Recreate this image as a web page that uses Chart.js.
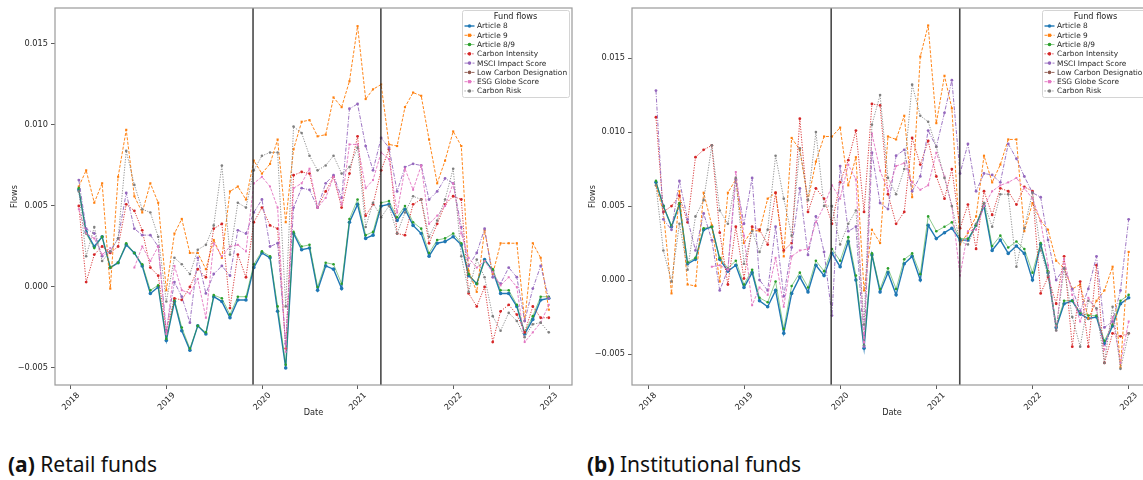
<!DOCTYPE html>
<html><head><meta charset="utf-8">
<script src="https://cdn.jsdelivr.net/npm/chart.js@4/dist/chart.umd.min.js"></script>
<style>
html,body{margin:0;padding:0;background:#fff;width:1143px;height:480px;overflow:hidden;position:relative;}
#c1{position:absolute;left:0;top:0;}
#c2{position:absolute;left:580px;top:0;}
.cap{position:absolute;top:450px;font-family:"Noto Sans";font-size:21px;color:#111;white-space:nowrap;}
.cap b{font-weight:700;}
</style></head><body>
<canvas id="c1" width="577" height="430"></canvas>
<canvas id="c2" width="577" height="430"></canvas>
<div class="cap" style="left:8px"><b>(a)</b> Retail funds</div>
<div class="cap" style="left:587px"><b>(b)</b> Institutional funds</div>
<script>
// ---------- data ----------
const months = [];
for (let y = 2018; y <= 2022; y++) for (let m = 1; m <= 12; m++) months.push(y + '-' + String(m).padStart(2, '0'));

const seriesNames = ['Article 8','Article 9','Article 8/9','Carbon Intensity','MSCI Impact Score','Low Carbon Designation','ESG Globe Score','Carbon Risk'];
const xTickYears = [2018, 2019, 2020, 2021, 2022, 2023];
const yTickValues = [-0.005, 0, 0.005, 0.010, 0.015];
const eventDates = ['2019-11-27', '2021-03-30'];

// Retail funds
const retailArticle8 = [0.0060,0.0034,0.0025,0.0031,0.0012,0.0015,0.0026,0.0021,0.0013,-0.0004,0.0000,-0.0033,-0.0009,-0.0027,-0.0039,-0.0024,-0.0029,-0.0006,-0.0009,-0.0019,-0.0008,-0.0008,0.0012,0.0021,0.0018,-0.0015,-0.0050,0.0033,0.0023,0.0024,-0.0002,0.0013,0.0011,-0.0001,0.0040,0.0051,0.0030,0.0032,0.0050,0.0051,0.0041,0.0048,0.0038,0.0033,0.0019,0.0027,0.0028,0.0031,0.0026,0.0007,0.0002,0.0017,0.0010,-0.0004,-0.0004,-0.0012,-0.0029,-0.0020,-0.0008,-0.0007];
const retailArticle9 = [0.0062,0.0072,0.0052,0.0064,-0.0001,0.0068,0.0097,0.0056,0.0046,0.0064,0.0052,-0.0002,0.0033,0.0042,0.0021,0.0021,0.0011,0.0029,0.0018,0.0059,0.0062,0.0054,0.0078,0.0070,0.0076,0.0091,0.0040,0.0085,0.0102,0.0103,0.0093,0.0094,0.0117,0.0111,0.0127,0.0161,0.0116,0.0122,0.0125,0.0088,0.0087,0.0111,0.0120,0.0118,0.0091,0.0064,0.0078,0.0096,0.0087,0.0010,-0.0003,0.0035,0.0008,0.0027,0.0027,0.0027,-0.0021,0.0027,0.0018,-0.0014];
const retailArticle89 = [0.0061,0.0033,0.0024,0.0031,0.0012,0.0015,0.0027,0.0021,0.0014,-0.0002,0.0001,-0.0032,-0.0008,-0.0025,-0.0038,-0.0024,-0.0028,-0.0005,-0.0007,-0.0017,-0.0006,-0.0006,0.0014,0.0022,0.0019,-0.0012,-0.0048,0.0034,0.0025,0.0026,0.0000,0.0015,0.0014,0.0002,0.0042,0.0054,0.0032,0.0034,0.0052,0.0053,0.0043,0.0050,0.0040,0.0036,0.0021,0.0029,0.0030,0.0033,0.0027,0.0008,0.0002,0.0016,0.0011,-0.0002,-0.0002,-0.0011,-0.0028,-0.0018,-0.0006,-0.0006];
const retailCarbonIntensity = [0.0050,0.0003,0.0020,0.0025,0.0021,0.0025,0.0051,0.0047,0.0035,0.0012,0.0007,-0.0027,-0.0007,-0.0008,0.0000,0.0011,0.0006,0.0036,0.0039,-0.0013,0.0020,0.0006,0.0040,0.0049,0.0038,0.0036,-0.0038,0.0069,0.0071,0.0070,0.0049,0.0059,0.0068,0.0049,0.0070,0.0093,0.0044,0.0051,0.0072,0.0085,0.0033,0.0032,0.0051,0.0054,0.0027,0.0039,0.0051,0.0056,0.0054,-0.0004,-0.0012,0.0000,-0.0034,-0.0015,-0.0011,-0.0017,-0.0028,-0.0012,-0.0019,-0.0019];
const retailMsciImpact = [0.0066,0.0036,0.0033,0.0019,0.0022,0.0030,0.0058,0.0036,0.0032,0.0032,0.0025,-0.0027,0.0003,-0.0006,-0.0022,0.0018,-0.0004,0.0008,0.0013,0.0007,0.0035,0.0033,0.0046,0.0054,0.0025,0.0027,-0.0035,0.0049,0.0061,0.0060,0.0049,0.0064,0.0069,0.0055,0.0110,0.0113,0.0087,0.0072,0.0092,0.0086,0.0059,0.0074,0.0076,0.0075,0.0054,0.0059,0.0067,0.0064,0.0037,0.0013,0.0021,0.0036,0.0006,0.0002,0.0012,0.0006,-0.0021,-0.0001,0.0013,-0.0007];
const retailLowCarbon = [];
const retailEsgGlobe = [0.0048,0.0033,0.0030,0.0020,0.0024,null,null,0.0012,0.0025,0.0016,0.0025,-0.0029,0.0013,-0.0002,-0.0004,0.0005,-0.0019,0.0027,0.0019,0.0025,0.0026,0.0022,0.0064,0.0068,0.0062,0.0049,-0.0040,0.0061,0.0064,0.0073,0.0049,0.0055,0.0068,0.0051,0.0088,0.0088,0.0061,0.0066,0.0083,0.0079,0.0046,0.0073,0.0060,0.0075,0.0039,0.0044,0.0050,0.0064,0.0033,0.0018,0.0012,0.0016,0.0009,0.0001,0.0006,0.0000,-0.0034,-0.0028,-0.0022,-0.0011];
const retailCarbonRisk = [0.0059,0.0019,0.0037,0.0016,0.0022,0.0030,0.0084,0.0063,0.0048,0.0046,0.0031,-0.0009,0.0018,0.0014,0.0008,0.0023,0.0026,0.0038,0.0075,0.0020,0.0052,0.0049,0.0072,0.0081,0.0083,0.0083,-0.0012,0.0099,0.0095,0.0081,0.0072,0.0075,0.0081,0.0070,0.0074,0.0086,0.0037,0.0052,0.0043,0.0050,0.0033,0.0046,0.0056,0.0054,0.0031,0.0041,0.0054,0.0073,0.0019,-0.0003,0.0017,0.0006,-0.0018,-0.0027,-0.0016,-0.0021,-0.0031,-0.0023,-0.0022,-0.0028];

// Institutional funds
const instArticle8 = [0.0066,0.0050,0.0036,0.0051,0.0011,0.0014,0.0034,0.0036,0.0014,0.0006,0.0010,-0.0005,0.0005,-0.0014,-0.0018,-0.0007,-0.0036,-0.0009,0.0002,-0.0008,0.0010,0.0003,0.0018,0.0009,0.0026,0.0000,-0.0046,0.0017,-0.0008,0.0005,-0.0010,0.0011,0.0016,0.0000,0.0037,0.0028,0.0032,0.0035,0.0027,0.0027,0.0037,0.0050,0.0020,0.0027,0.0018,0.0023,0.0018,0.0000,0.0024,0.0005,-0.0032,-0.0016,-0.0014,-0.0023,-0.0026,-0.0025,-0.0043,-0.0031,-0.0016,-0.0012];
const instArticle9 = [0.0064,0.0046,-0.0009,0.0060,-0.0003,-0.0004,0.0059,0.0037,-0.0001,0.0059,0.0068,0.0025,0.0034,0.0033,0.0055,0.0059,0.0016,0.0096,0.0088,0.0054,0.0080,0.0097,0.0097,0.0103,0.0064,0.0083,-0.0007,0.0034,0.0025,0.0097,0.0095,0.0111,0.0056,0.0151,0.0172,0.0106,0.0138,0.0116,0.0024,0.0032,0.0043,0.0084,0.0066,0.0078,0.0095,0.0095,0.0033,0.0052,0.0040,0.0034,0.0013,0.0008,-0.0006,-0.0003,-0.0026,-0.0014,-0.0007,0.0009,-0.0059,0.0019];
const instArticle89 = [0.0067,0.0050,0.0037,0.0052,0.0012,0.0015,0.0035,0.0036,0.0015,0.0008,0.0013,-0.0003,0.0007,-0.0012,-0.0015,-0.0001,-0.0033,-0.0004,0.0005,-0.0005,0.0013,0.0006,0.0021,0.0013,0.0029,0.0003,-0.0044,0.0018,-0.0006,0.0008,-0.0006,0.0014,0.0018,0.0004,0.0043,0.0033,0.0036,0.0039,0.0028,0.0028,0.0037,0.0052,0.0023,0.0030,0.0022,0.0026,0.0021,0.0005,0.0025,0.0006,-0.0031,-0.0014,-0.0014,-0.0022,-0.0024,-0.0024,-0.0041,-0.0030,-0.0014,-0.0010];
const instCarbonIntensity = [0.0110,0.0046,0.0050,0.0057,0.0039,0.0083,0.0088,0.0091,0.0032,-0.0003,0.0036,0.0001,0.0036,0.0034,0.0024,0.0059,0.0020,0.0025,0.0109,0.0046,0.0062,0.0055,0.0038,0.0066,0.0081,0.0101,0.0046,0.0119,0.0118,0.0058,0.0038,0.0046,0.0096,0.0078,0.0094,0.0070,0.0055,0.0075,0.0035,0.0051,0.0021,0.0060,0.0044,0.0062,0.0060,0.0051,0.0063,0.0060,-0.0009,0.0002,-0.0016,0.0016,-0.0045,-0.0001,-0.0045,0.0010,-0.0056,-0.0036,-0.0038,-0.0036];
const instMsciImpact = [0.0128,0.0041,0.0034,0.0067,0.0041,0.0020,0.0045,0.0027,-0.0007,0.0007,0.0068,0.0038,0.0069,0.0000,-0.0007,0.0036,-0.0011,0.0022,0.0062,0.0017,0.0043,0.0019,-0.0024,0.0077,0.0033,0.0036,-0.0045,0.0086,0.0052,0.0048,0.0084,0.0088,0.0060,0.0070,0.0101,0.0090,0.0113,0.0135,0.0072,0.0092,0.0060,0.0072,0.0071,0.0066,0.0092,0.0082,0.0070,0.0059,0.0056,0.0027,0.0000,0.0008,-0.0006,-0.0021,-0.0006,0.0016,-0.0032,-0.0028,-0.0007,0.0041];
const instLowCarbon = [];
const instEsgGlobe = [null,null,null,null,null,null,null,0.0009,0.0010,0.0007,0.0073,0.0030,-0.0017,-0.0005,-0.0010,0.0015,-0.0018,0.0016,0.0020,0.0021,0.0039,0.0050,0.0064,0.0055,0.0078,0.0068,-0.0042,0.0099,0.0074,0.0060,0.0077,0.0079,0.0066,0.0061,0.0064,0.0086,0.0070,0.0050,0.0003,0.0033,0.0034,0.0050,0.0060,0.0064,0.0066,0.0069,0.0062,0.0055,0.0040,0.0010,-0.0034,0.0014,-0.0010,-0.0028,-0.0012,-0.0020,-0.0047,-0.0025,-0.0056,-0.0028];
const instCarbonRisk = [0.0064,0.0020,-0.0001,0.0038,0.0007,0.0043,0.0054,0.0091,0.0047,0.0038,0.0069,0.0011,0.0033,0.0019,0.0034,0.0084,0.0055,0.0030,0.0089,0.0054,0.0100,0.0050,0.0050,0.0024,0.0038,0.0047,-0.0030,0.0105,0.0125,0.0069,0.0058,0.0075,0.0132,0.0111,0.0107,0.0090,0.0069,0.0050,0.0026,0.0024,0.0038,0.0052,0.0036,0.0058,0.0058,0.0009,0.0035,0.0059,0.0020,0.0003,-0.0034,0.0008,-0.0025,-0.0045,-0.0014,-0.0019,-0.0056,-0.0018,-0.0060,-0.0036];

// ---------- styles ----------
const seriesStyle = [
  {color:'31,119,180',  dash:[],            width:1.4, radius:1.8, point:'circle', alpha:1},
  {color:'255,127,14',  dash:[3,1.6],       width:1.0, radius:1.5, point:'rect',   alpha:0.95},
  {color:'44,160,44',   dash:[],            width:0.9, radius:1.3, point:'circle', alpha:0.6},
  {color:'214,39,40',   dash:[1.2,1.4],     width:1.0, radius:1.4, point:'circle', alpha:0.9},
  {color:'148,103,189', dash:[4,1.5,1,1.5], width:1.0, radius:1.4, point:'circle', alpha:0.9},
  {color:'140,86,75',   dash:[3,1.5,1,1.5], width:1.0, radius:1.4, point:'circle', alpha:0.9},
  {color:'227,119,194', dash:[3,1.5],       width:1.0, radius:1.4, point:'rect',   alpha:0.9},
  {color:'127,127,127', dash:[1.2,1.4],     width:1.0, radius:1.3, point:'circle', alpha:0.85}
];
const FONT = 'DejaVu Sans';
const X_MIN = 2017.833, X_MAX = 2023.24;

function monthEndYear(s) {
  const [y, m] = s.split('-').map(Number);
  const start = Date.UTC(y, 0, 1), next = Date.UTC(y + 1, 0, 1);
  return y + (Date.UTC(y, m, 0) - start) / (next - start);
}
function dateYear(s) {
  const [y, m, d] = s.split('-').map(Number);
  const start = Date.UTC(y, 0, 1), next = Date.UTC(y + 1, 0, 1);
  return y + (Date.UTC(y, m - 1, d) - start) / (next - start);
}
const monthX = months.map(monthEndYear);
const rgba = (c, a) => 'rgba(' + c + ',' + a + ')';

const framePlugin = {
  id: 'frame',
  afterDatasetsDraw(chart) {
    const {ctx, chartArea: a} = chart;
    ctx.save();
    ctx.strokeStyle = '#9a9a9a'; ctx.lineWidth = 1.2;
    ctx.strokeRect(a.left, a.top, a.right - a.left, a.bottom - a.top);
    ctx.restore();
  }
};

const xLabelPlugin = {
  id: 'xlabels',
  afterDraw(chart) {
    const {ctx} = chart;
    const xs = chart.scales.x;
    const top = chart.chartArea.bottom + 4 + 3;
    ctx.save();
    ctx.font = '8.2px "' + FONT + '"';
    ctx.fillStyle = '#262626';
    ctx.textAlign = 'center'; ctx.textBaseline = 'middle';
    xTickYears.forEach(v => {
      const t = String(v);
      const w = ctx.measureText(t).width, h = 8.2 * 0.75;
      const half = (w + h) * Math.SQRT1_2 / 2;
      ctx.save();
      ctx.translate(xs.getPixelForValue(v), top + half);
      ctx.rotate(-Math.PI / 4);
      ctx.fillText(t, 0, 0);
      ctx.restore();
    });
    ctx.restore();
  }
};

const legendPlugin = {
  id: 'fundLegend',
  afterDraw(chart) {
    const {ctx, chartArea: a} = chart;
    const W = 107, H = 87;
    const left = a.right - 3 - W, top = a.top + 2;
    ctx.save();
    ctx.fillStyle = 'rgba(255,255,255,0.85)';
    ctx.strokeStyle = '#d4d4d4'; ctx.lineWidth = 1;
    ctx.beginPath();
    if (ctx.roundRect) ctx.roundRect(left + 0.5, top + 0.5, W, H, 2); else ctx.rect(left + 0.5, top + 0.5, W, H);
    ctx.fill(); ctx.stroke();
    ctx.fillStyle = '#262626';
    ctx.font = '8.2px "' + FONT + '"';
    ctx.textAlign = 'center'; ctx.textBaseline = 'middle';
    ctx.fillText('Fund flows', left + W / 2, top + 6.5);
    ctx.font = '7.4px "' + FONT + '"';
    ctx.textAlign = 'left';
    seriesNames.forEach((name, k) => {
      const st = seriesStyle[k];
      const y = top + 16 + k * 9.28;
      ctx.strokeStyle = rgba(st.color, st.alpha);
      ctx.lineWidth = st.width;
      ctx.setLineDash(st.dash);
      ctx.beginPath(); ctx.moveTo(left + 2.5, y); ctx.lineTo(left + 12.5, y); ctx.stroke();
      ctx.setLineDash([]);
      ctx.fillStyle = rgba(st.color, 1);
      ctx.beginPath();
      if (st.point === 'rect') ctx.rect(left + 7.5 - 1.6, y - 1.6, 3.2, 3.2);
      else ctx.arc(left + 7.5, y, 1.8, 0, Math.PI * 2);
      ctx.fill();
      ctx.fillStyle = '#262626';
      ctx.fillText(name, left + 15, y + 0.5);
    });
    ctx.restore();
  }
};

function buildChart(id, seriesValues, yMin, yMax, yAxisWidth, titlePad) {
  const datasets = seriesValues.map((vals, k) => {
    const st = seriesStyle[k];
    return {
      label: seriesNames[k],
      data: vals.map((v, i) => ({x: monthX[i], y: v})),
      borderColor: rgba(st.color, st.alpha),
      backgroundColor: rgba(st.color, 1),
      borderWidth: st.width,
      borderDash: st.dash,
      pointRadius: st.radius,
      pointStyle: st.point,
      pointBorderWidth: 0,
      pointBackgroundColor: rgba(st.color, 1),
      tension: 0, spanGaps: false, fill: false,
      order: seriesValues.length - k
    };
  });
  eventDates.forEach(d => {
    const xv = dateYear(d);
    datasets.push({
      label: '', data: [{x: xv, y: yMin}, {x: xv, y: yMax}],
      borderColor: 'rgba(40,40,40,0.85)', borderWidth: 1.6, pointRadius: 0, order: -1
    });
  });
  return new Chart(document.getElementById(id), {
    type: 'line',
    data: {datasets},
    options: {
      responsive: false, animation: false, devicePixelRatio: 1,
      layout: {padding: {left: 0, top: 8, right: 5, bottom: 0}},
      plugins: {legend: {display: false}, tooltip: {enabled: false}},
      scales: {
        x: {
          type: 'linear', min: X_MIN, max: X_MAX,
          afterBuildTicks: s => { s.ticks = xTickYears.map(v => ({value: v})); },
          afterFit: s => { s.height = 45; },
          grid: {display: true, drawOnChartArea: false, drawTicks: true, tickLength: 4, color: '#333', lineWidth: 0.8},
          border: {display: false},
          ticks: {display: false},
          title: {display: true, text: 'Date', color: '#262626', font: {family: FONT, size: 8.2}, padding: {top: 0, bottom: 12}}
        },
        y: {
          type: 'linear', min: yMin, max: yMax,
          afterBuildTicks: s => { s.ticks = yTickValues.map(v => ({value: v})); },
          afterFit: s => { s.width = yAxisWidth; },
          grid: {display: true, drawOnChartArea: false, drawTicks: true, tickLength: 4, color: '#333', lineWidth: 0.8},
          border: {display: false},
          ticks: {
            color: '#262626', padding: 3, font: {family: FONT, size: 8.2},
            callback: v => (v < 0 ? '\u2212' : '') + Math.abs(v).toFixed(3)
          },
          title: {display: true, text: 'Flows', color: '#262626', font: {family: FONT, size: 8.2}, padding: {top: titlePad, bottom: 0}}
        }
      }
    },
    plugins: [framePlugin, xLabelPlugin, legendPlugin]
  });
}

buildChart('c1', [retailArticle8, retailArticle9, retailArticle89, retailCarbonIntensity, retailMsciImpact, retailLowCarbon, retailEsgGlobe, retailCarbonRisk], -0.00605, 0.01722, 55, 10);
buildChart('c2', [instArticle8, instArticle9, instArticle89, instCarbonIntensity, instMsciImpact, instLowCarbon, instEsgGlobe, instCarbonRisk], -0.00709, 0.01838, 52, 8);
</script>
</body></html>
